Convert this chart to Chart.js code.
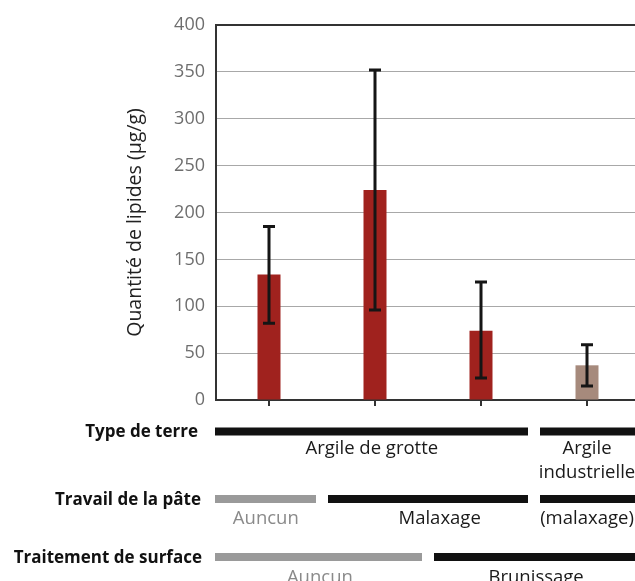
<!DOCTYPE html>
<html>
<head>
<meta charset="utf-8">
<script src="https://cdn.jsdelivr.net/npm/chart.js@4/dist/chart.umd.min.js"></script>
<style>
html,body{margin:0;padding:0;overflow:hidden;background:#fff;width:635px;height:581px;}
#wrap{width:640px;height:581px;}
</style>
</head>
<body>
<div id="wrap"><canvas id="c" width="640" height="581"></canvas></div>
<script>
// ---- data ----
const categories = ['Grotte / aucun / aucun', 'Grotte / malaxage / aucun', 'Grotte / malaxage / brunissage', 'Industrielle / malaxage / brunissage'];
const lipidValues = [134, 224, 74, 37];
const errorLow = [82, 96, 23.5, 15];
const errorHigh = [185, 352, 126, 59];
const barColors = ['#A0221E', '#A0221E', '#A0221E', '#A68A7C'];
const yTicks = [0, 50, 100, 150, 200, 250, 300, 350, 400];
const yTitle = 'Quantité de lipides (µg/g)';

// annotation rows: label, segments [fromIndex, toIndex, style], texts [lines, centre index, style]
const rowLabels = ['Type de terre', 'Travail de la pâte', 'Traitement de surface'];
const rowSegments = [
  [[0, 2, 'dark'], [3, 3, 'dark']],
  [[0, 0, 'grey'], [1, 2, 'dark'], [3, 3, 'dark']],
  [[0, 1, 'grey'], [2, 3, 'dark']]
];
const rowTexts = [
  [[['Argile de grotte'], 0.97, 'dark'], [['Argile', 'industrielle'], 3.0, 'dark']],
  [[['Auncun'], -0.03, 'grey'], [['Malaxage'], 1.61, 'dark'], [['(malaxage)'], 3.0, 'dark']],
  [[['Auncun'], 0.48, 'grey'], [['Brunissage'], 2.52, 'dark']]
];

const errorBars = {
  id: 'errorBars',
  afterDatasetsDraw(chart) {
    const ctx = chart.ctx;
    const meta = chart.getDatasetMeta(0);
    const ys = chart.scales.y;
    ctx.save();
    ctx.strokeStyle = '#151515';
    ctx.lineWidth = 3;
    meta.data.forEach((bar, i) => {
      const x = bar.x;
      const yh = ys.getPixelForValue(errorHigh[i]);
      const yl = ys.getPixelForValue(errorLow[i]);
      ctx.beginPath();
      ctx.moveTo(x, yh); ctx.lineTo(x, yl);
      ctx.moveTo(x - 6, yh); ctx.lineTo(x + 6, yh);
      ctx.moveTo(x - 6, yl); ctx.lineTo(x + 6, yl);
      ctx.stroke();
    });
    ctx.restore();
  }
};

const annotations = {
  id: 'annotations',
  afterDraw(chart) {
    const ctx = chart.ctx;
    const xs = chart.scales.x;
    const area = chart.chartArea;
    const cw = xs.width / categories.length;
    const rowY = [431.5, 499, 557];
    const textY = [449, 519, 578];
    const colors = {dark: '#111111', grey: '#9a9a9a'};
    const textColors = {dark: '#1a1a1a', grey: '#8a8a8a'};
    ctx.save();
    // y axis title
    ctx.save();
    ctx.translate(135, area.top + (area.bottom - area.top) / 2 + 10);
    ctx.rotate(-Math.PI / 2);
    ctx.font = '19.5px "Open Sans"';
    ctx.fillStyle = '#222';
    ctx.textAlign = 'center';
    ctx.textBaseline = 'middle';
    ctx.fillText(yTitle, 0, 0);
    ctx.restore();
    // row labels
    ctx.font = 'bold 17px "Open Sans"';
    ctx.fillStyle = '#111';
    ctx.textAlign = 'right';
    ctx.textBaseline = 'middle';
    const labelRight = [198, 201, 202];
    rowLabels.forEach((t, r) => ctx.fillText(t, labelRight[r], rowY[r] + 1));
    // segments
    rowSegments.forEach((segs, r) => {
      segs.forEach(([a, b, st]) => {
        const x1 = a === 0 ? area.left - 1 : xs.getPixelForValue(a) - cw / 2 + 6;
        const x2 = b === categories.length - 1 ? area.right + 5 : xs.getPixelForValue(b) + cw / 2 - 6;
        ctx.fillStyle = colors[st];
        ctx.fillRect(x1, rowY[r] - 4, x2 - x1, 8);
      });
    });
    // texts
    ctx.font = '18.5px "Open Sans"';
    ctx.textAlign = 'center';
    rowTexts.forEach((items, r) => {
      items.forEach(([lines, pos, st]) => {
        const x = xs.getPixelForValue(0) + pos * cw;
        ctx.fillStyle = textColors[st];
        lines.forEach((ln, k) => ctx.fillText(ln, x, textY[r] + k * 24));
      });
    });
    ctx.restore();
  }
};

new Chart(document.getElementById('c'), {
  type: 'bar',
  data: {
    labels: categories,
    datasets: [{
      data: lipidValues,
      backgroundColor: barColors,
      borderColor: barColors,
      borderWidth: 0,
      barPercentage: 0.217,
      categoryPercentage: 1
    }]
  },
  options: {
    responsive: false,
    devicePixelRatio: 1,
    animation: false,
    layout: {padding: {top: 25, right: 0, bottom: 0, left: 0}},
    plugins: {legend: {display: false}, tooltip: {enabled: false}},
    scales: {
      x: {
        ticks: {display: false},
        grid: {display: true, offset: false, drawOnChartArea: false, drawTicks: true, tickLength: 6, color: '#333', lineWidth: 2},
        border: {display: true, color: '#333', width: 2},
        afterFit(s) { s.height = 181; }
      },
      y: {
        min: 0, max: 400,
        afterBuildTicks(s) { s.ticks = yTicks.map(v => ({value: v})); },
        ticks: {color: '#6e6e6e', font: {family: '"Open Sans"', size: 18}, padding: 11},
        grid: {
          drawTicks: false,
          color: c => c.tick && c.tick.value === 400 ? '#333' : '#a8a8a8',
          lineWidth: c => c.tick && c.tick.value === 400 ? 2 : 1
        },
        border: {display: true, color: '#333', width: 2},
        title: {display: false},
        afterFit(s) { s.width = 216; }
      }
    }
  },
  plugins: [errorBars, annotations]
});
</script>
</body>
</html>
